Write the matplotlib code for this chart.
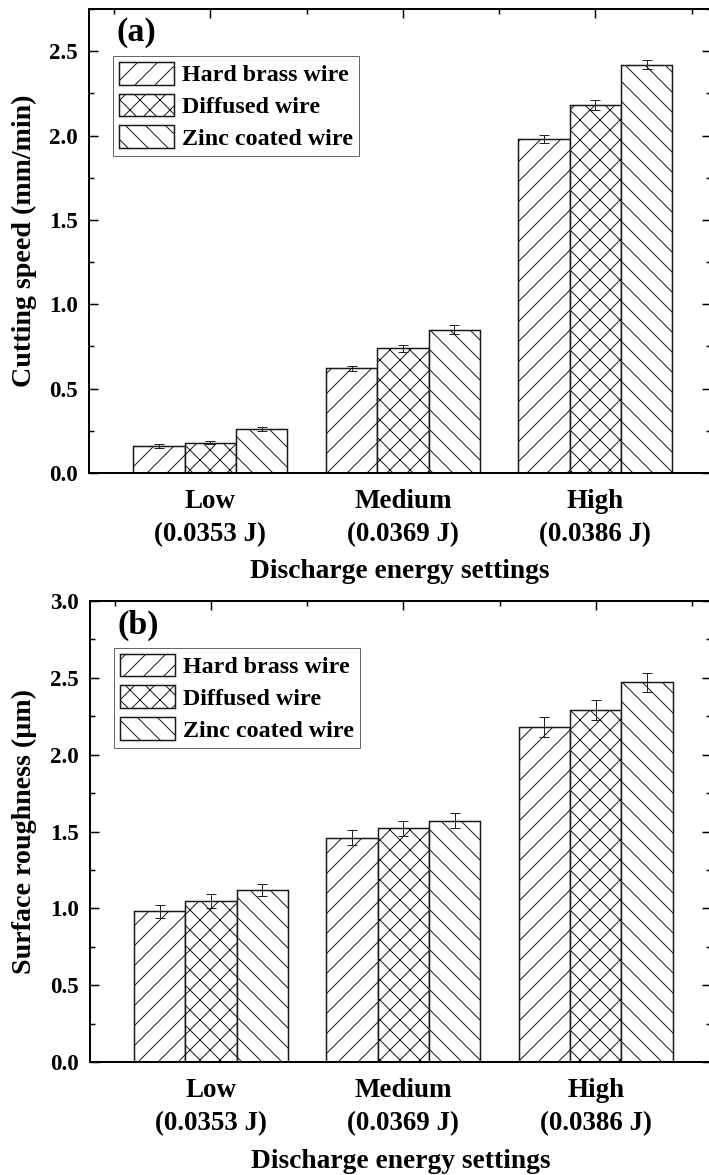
import matplotlib
matplotlib.use("Agg")
import matplotlib.pyplot as plt
from matplotlib.ticker import MultipleLocator, FormatStrFormatter
import numpy as np

DPI = 60
PT = 72.0 / DPI   # points in one pixel
EDGE = "#1a1a1a"

plt.rcParams["font.family"] = ["Liberation Serif", "DejaVu Serif"]
plt.rcParams["font.weight"] = "bold"
plt.rcParams["axes.labelweight"] = "bold"
plt.rcParams["hatch.linewidth"] = 1.0 * PT

wires = ["Hard brass wire", "Diffused wire", "Zinc coated wire"]
hatches = ["/", "x", "\\"]
settings = ["Low\n(0.0353 J)", "Medium\n(0.0369 J)", "High\n(0.0386 J)"]

# rows: wire type, columns: Low / Medium / High
speed = [[0.16, 0.62, 1.98],
         [0.18, 0.74, 2.18],
         [0.26, 0.85, 2.42]]
speed_err = [[0.01, 0.015, 0.025],
             [0.01, 0.02, 0.03],
             [0.01, 0.025, 0.028]]
rough = [[0.98, 1.46, 2.18],
         [1.05, 1.52, 2.29],
         [1.12, 1.57, 2.47]]
rough_err = [[0.042, 0.05, 0.065],
             [0.045, 0.05, 0.065],
             [0.04, 0.05, 0.064]]


def panel(ax, values, errors, ymax, ylabel, tag):
    x = np.arange(1, len(settings) + 1)
    w = 0.8 / len(wires)
    for i in range(len(wires)):
        ax.bar(x + (i - 1) * w, values[i], w, yerr=errors[i],
               facecolor="white", edgecolor=EDGE, hatch=hatches[i],
               linewidth=1.5 * PT, label=wires[i],
               error_kw=dict(ecolor="#222222", elinewidth=1.0 * PT,
                             capsize=5 * PT, capthick=1.0 * PT))

    ax.set_xlim(0.37, 3.6)
    ax.set_ylim(0, ymax)
    ax.set_xticks(x)
    ax.set_xticklabels(settings, fontsize=27 * PT, linespacing=1.43)
    ax.xaxis.set_minor_locator(MultipleLocator(0.5))
    ax.yaxis.set_major_locator(MultipleLocator(0.5))
    ax.yaxis.set_minor_locator(MultipleLocator(0.25))
    ax.yaxis.set_major_formatter(FormatStrFormatter("%.1f"))

    ax.tick_params(axis="x", which="both", bottom=False, top=True,
                   direction="in", labelbottom=True, pad=16 * PT)
    ax.tick_params(axis="y", which="both", left=True, right=True,
                   direction="in", labelsize=23 * PT, pad=11 * PT)
    ax.tick_params(which="major", length=9 * PT, width=1.5 * PT)
    ax.tick_params(which="minor", length=5 * PT, width=1.5 * PT)
    for s in ax.spines.values():
        s.set_linewidth(2 * PT)

    ax.set_xlabel("Discharge energy settings", fontsize=27.5 * PT)
    ax.set_ylabel(ylabel, fontsize=28 * PT)
    ax.yaxis.label.set_va("center")
    ax.xaxis.label.set_va("center")

    leg = ax.legend(loc="upper left", bbox_to_anchor=(0.0386, 0.899),
                    borderaxespad=0, handlelength=2.3, handleheight=1.08,
                    handletextpad=0.33, labelspacing=0.3, borderpad=0.25,
                    fancybox=False, edgecolor="#666666", framealpha=1,
                    prop=dict(size=24 * PT, weight="bold"))
    leg.get_frame().set_linewidth(1.0 * PT)

    ax.text(0.045, 0.982, tag, transform=ax.transAxes, ha="left", va="top",
            fontsize=34 * PT)


fig = plt.figure(figsize=(709 / DPI, 1175 / DPI), dpi=DPI)
W, H = 709.0, 1175.0
ax1 = fig.add_axes([89 / W, (H - 473) / H, 622 / W, 464 / H])
ax2 = fig.add_axes([90 / W, (H - 1062) / H, 621 / W, 461 / H])

panel(ax1, speed, speed_err, 2.75, "Cutting speed (mm/min)", "(a)")
panel(ax2, rough, rough_err, 3.0, "Surface roughness (µm)", "(b)")

ax1.xaxis.set_label_coords(0.5, -(571 - 473) / 464)
ax2.xaxis.set_label_coords(0.5, -(1162 - 1062) / 461)
ax1.yaxis.set_label_coords((24 - 89) / 622, 0.5)
ax2.yaxis.set_label_coords((24 - 90) / 621, 0.5)

fig.savefig("out.png", dpi=DPI)
